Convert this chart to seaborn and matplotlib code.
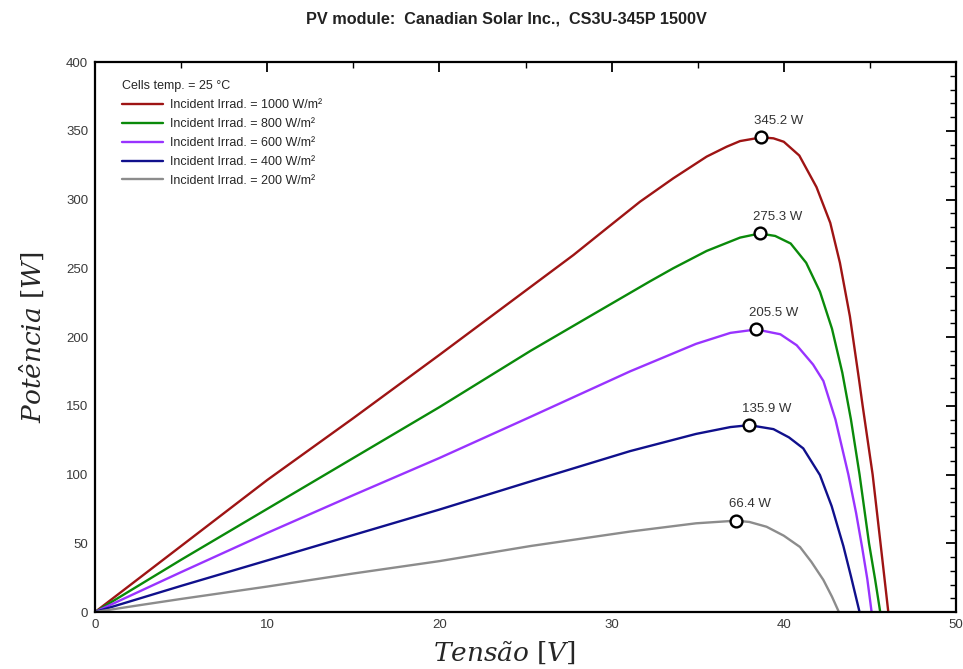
import matplotlib
matplotlib.use("Agg")
import matplotlib.pyplot as plt
from matplotlib.ticker import MultipleLocator
import pandas as pd
import seaborn as sns

# P-V curves of the CS3U-345P module at 25 °C for five irradiance levels
irradiances = [1000, 800, 600, 400, 200]

v_1000 = [0, 2.5, 5, 10, 15, 20, 25.84, 27.78, 29.71, 31.65, 33.58, 35.52, 36.68,
          37.46, 38.7, 39.4, 40.0, 40.9, 41.9, 42.7, 43.26, 43.84, 44.37, 44.58,
          45.16, 45.64, 46.07]
p_1000 = [0, 24, 48, 96, 141, 187, 241.5, 259.6, 279, 298.4, 315.4, 331.2, 338.4,
          342.5, 345.2, 344.5, 342, 332, 309, 283, 254, 215, 169, 150,
          100, 47.5, 0]

v_800 = [0, 2.5, 5, 10, 15, 20, 25.3, 29.0, 32.23, 33.58, 35.52, 37.46, 38.6,
         39.5, 40.4, 41.3, 42.1, 42.8, 43.4, 43.9, 44.4, 44.95, 45.3, 45.6]
p_800 = [0, 19, 38, 75, 112, 149, 190, 217, 240.5, 250, 262.6, 272.3, 275.3,
         273.5, 268, 254, 233, 206, 174, 140, 100, 50, 24, 0]

v_600 = [0, 2.5, 5, 10, 15, 20, 25.3, 31.07, 34.9, 36.9, 38.4, 39.8, 40.75,
         41.7, 42.3, 43.0, 43.75, 44.2, 44.55, 44.85, 45.1]
p_600 = [0, 14.5, 29, 57.5, 85, 112, 142, 175, 195, 203, 205.5, 202, 194,
         180, 168, 140, 100, 72, 47, 24, 0]

v_400 = [0, 2.5, 5, 10, 15, 20, 25.3, 31.07, 34.9, 36.9, 38.0, 39.4, 40.3,
         41.13, 42.1, 42.78, 43.46, 43.9, 44.15, 44.4]
p_400 = [0, 9.5, 19, 37.5, 56, 74.5, 95, 117, 129.5, 134.5, 135.9, 133, 127,
         119, 99.6, 77, 48, 26, 13, 0]

v_200 = [0, 2.5, 5, 10, 15, 20, 25.3, 31.07, 34.9, 37.2, 38.0, 39.0, 40.0,
         40.94, 41.6, 42.3, 42.8, 43.2]
p_200 = [0, 4.8, 9.5, 18.5, 28, 37, 48, 58.5, 64.5, 66.4, 65.5, 62, 55.5,
         47.3, 36.5, 23.3, 11.1, 0]

# maximum power points
mpp_v = [38.7, 38.6, 38.4, 38.0, 37.2]
mpp_p = [345.2, 275.3, 205.5, 135.9, 66.4]

x_ticks = [0, 10, 20, 30, 40, 50]
y_ticks = [0, 50, 100, 150, 200, 250, 300, 350, 400]

curves = {1000: (v_1000, p_1000), 800: (v_800, p_800), 600: (v_600, p_600),
          400: (v_400, p_400), 200: (v_200, p_200)}
labels = [f"Incident Irrad. = {g} W/m²" for g in irradiances]
frames = []
for g, lab in zip(irradiances, labels):
    v, p = curves[g]
    frames.append(pd.DataFrame({"V": v, "P": p, "curve": lab}))
df = pd.concat(frames, ignore_index=True)
colors = ["#9E1414", "#0A8A0A", "#9933FF", "#10108C", "#8C8C8C"]

sns.set_theme(style="white")
plt.rcParams["font.family"] = ["Liberation Sans", "DejaVu Sans"]
plt.rcParams["mathtext.fontset"] = "dejavuserif"

fig = plt.figure(figsize=(9.63, 6.69), dpi=100)
ax = fig.add_axes([0.0987, 0.0852, 0.8940, 0.8221])

sns.lineplot(data=df, x="V", y="P", hue="curve", hue_order=labels, palette=colors,
             sort=False, estimator=None, ax=ax, linewidth=1.7, legend=False)

ax.scatter(mpp_v, mpp_p, s=72, facecolor="white", edgecolor="black",
           linewidth=1.7, zorder=5)
for v, p in zip(mpp_v, mpp_p):
    ax.annotate(f"{p:.1f} W", (v, p), xytext=(-5, 7.5), textcoords="offset points",
                ha="left", va="bottom", fontsize=9.5, color="#333333")

ax.set_xlim(0, 50)
ax.set_ylim(0, 400)
ax.set_xticks(x_ticks)
ax.set_yticks(y_ticks)
ax.xaxis.set_minor_locator(MultipleLocator(5))
ax.yaxis.set_minor_locator(MultipleLocator(10))
ax.tick_params(which="both", direction="in", top=True, right=True, color="black",
               labelsize=9.5, labelcolor="#3a3a3a")
ax.tick_params(which="major", length=7, width=1.3, pad=5)
ax.tick_params(which="minor", length=4, width=1.0)
for s in ax.spines.values():
    s.set_color("black")
    s.set_linewidth(1.6)

ax.set_xlabel(r"$Tens\tilde{a}o\ [V]$", fontsize=19, labelpad=6)
ax.xaxis.label.set_x(0.476)
ax.set_ylabel(r"$Pot\hat{e}ncia\ [W]$", fontsize=19, labelpad=14)

handles = ax.get_lines()[:len(labels)]
leg = ax.legend(handles, labels, loc="upper left", bbox_to_anchor=(0.018, 0.987),
                frameon=False, title="Cells temp. = 25 °C", fontsize=9,
                title_fontsize=9, handlelength=3.3, handletextpad=0.55,
                labelspacing=0.55)
leg._legend_box.align = "left"

fig.text(0.5255, 0.972, "PV module:  Canadian Solar Inc.,  CS3U-345P 1500V",
         ha="center", va="center", fontsize=11.7, fontweight="bold", color="#222222")

fig.savefig("out.png", dpi=100, facecolor="white")
